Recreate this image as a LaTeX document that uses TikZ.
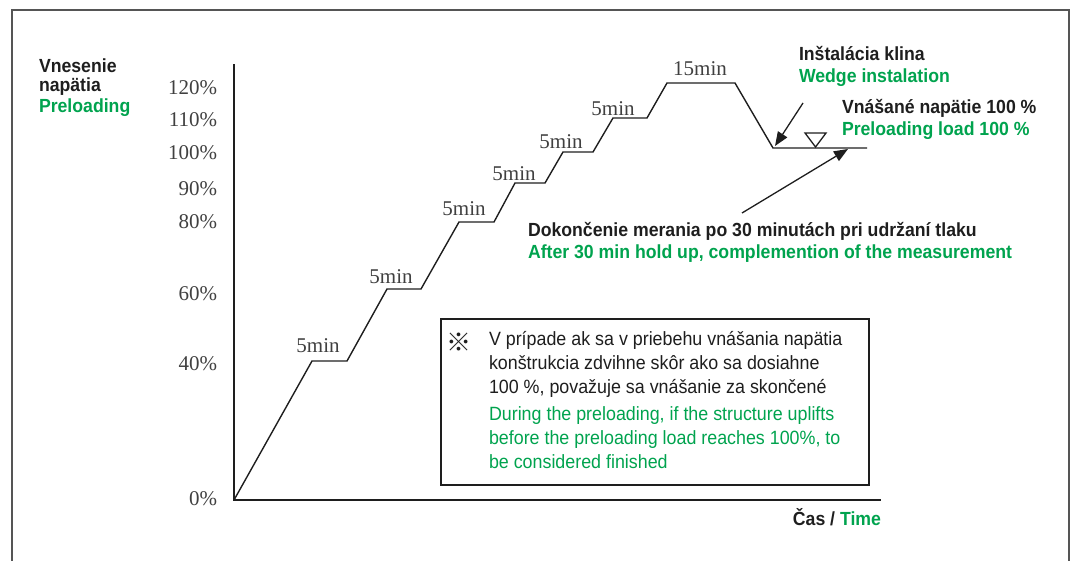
\documentclass[tikz,border=0pt]{standalone}
\usepackage{fontspec}
\setmainfont{Liberation Serif}
\newfontfamily\labfont[FakeStretch=0.93]{Liberation Sans}
\newfontfamily\markfont{Noto Sans CJK SC}
\usetikzlibrary{arrows.meta}
\definecolor{engreen}{RGB}{0,163,78}
\definecolor{ink}{RGB}{30,30,30}
\definecolor{framegray}{RGB}{85,85,85}
\begin{document}
\begin{tikzpicture}[x=1pt,y=-1pt]\tikzstyle{every node}=[inner sep=0pt,outer sep=0pt]
\tikzstyle{pct}=[anchor=base east,font=\fontsize{21}{24}\selectfont,text=ink!85]
\tikzstyle{dur}=[anchor=base,font=\fontsize{21}{24}\selectfont,text=ink!85]
\tikzstyle{sk}=[anchor=base west,font=\labfont\bfseries\fontsize{19}{22}\selectfont,text=ink]
\tikzstyle{en}=[sk,text=engreen]
\tikzstyle{notesk}=[anchor=base west,font=\labfont\fontsize{19.2}{22}\selectfont,text=ink]
\tikzstyle{noteen}=[notesk,text=engreen]
\tikzstyle{pointer}=[-{Triangle[length=14pt,width=11pt]},line width=1.3pt,ink]
\useasboundingbox (0,0) rectangle (1074,560);
% frame (open at the bottom)
\draw[framegray,line width=1.5pt] (12,562) -- (12,10) -- (1069,10) -- (1069,562);
% axes
\draw[ink,line width=1.4pt] (234,64) -- (234,500) -- (881,500);
% y labels
\node[pct] at (217,94) (p120) {120\%};
\node[pct] at (217,126) (p110) {110\%};
\node[pct] at (217,159) (p100) {100\%};
\node[pct] at (217,195) (p90) {90\%};
\node[pct] at (217,228) (p80) {80\%};
\node[pct] at (217,300) (p60) {60\%};
\node[pct] at (217,370) (p40) {40\%};
\node[pct] at (217,505) (p0) {0\%};
% loading steps
\draw[ink,line width=1.4pt,line join=miter] (234,500) -- (312,361) -- (347,361)
  -- (387,289) -- (421,289) -- (459,222) -- (494,222) -- (515,183) -- (545,183)
  -- (563,152) -- (593,152) -- (613,118) -- (647,118) -- (667,83) -- (735,83)
  -- (773,148) -- (867,148);
\node[dur] at (318,352) (d40) {5min};
\node[dur] at (391,283) (d60) {5min};
\node[dur] at (464,215) (d80) {5min};
\node[dur] at (514,180) (d90) {5min};
\node[dur] at (561,148) (d100) {5min};
\node[dur] at (613,115) (d110) {5min};
\node[dur] at (700,75) (d120) {15min};
% level mark
\draw[ink,line width=1.3pt,fill=white] (805,133) -- (826,133) -- (815.5,147) -- cycle;
% titles
\node[sk] at (39,72) (ytitle) {Vnesenie};
\node[sk] at (39,91) (ytitle2) {napätia};
\node[en] at (39,112) (ytitleen) {Preloading};
\node[sk] at (799,60) (wedge) {Inštalácia klina};
\node[en] at (799,82) (wedgeen) {Wedge instalation};
\node[sk] at (842,113) (load) {Vnášané napätie 100 \%};
\node[en] at (842,135) (loaden) {Preloading load 100 \%};
\node[sk] at (528,236) (hold) {Dokončenie merania po 30 minutách pri udržaní tlaku};
\node[en] at (528,258) (holden) {After 30 min hold up, complemention of the measurement};
\node[sk,anchor=base east] at (881,525) (time) {Čas / \textcolor{engreen}{Time}};
% pointers
\coordinate (wedgetail) at (803,103);
\coordinate (wedgetip) at (775,146);
\coordinate (holdtail) at (742,213);
\coordinate (holdtip) at (848,149);
\draw[pointer] (wedgetail) -- (wedgetip);
\draw[pointer] (holdtail) -- (holdtip);
% note
\draw[ink,line width=1.5pt] (441,319) rectangle (869,485);
\node[font=\markfont\fontsize{25}{28}\selectfont,text=ink] at (459,342) (mark) {※};
\node[notesk] at (489,345) (n1) {V prípade ak sa v priebehu vnášania napätia};
\node[notesk] at (489,369) (n2) {konštrukcia zdvihne skôr ako sa dosiahne};
\node[notesk] at (489,393) (n3) {100 \%, považuje sa vnášanie za skončené};
\node[noteen] at (489,420) (n4) {During the preloading, if the structure uplifts};
\node[noteen] at (489,444) (n5) {before the preloading load reaches 100\%, to};
\node[noteen] at (489,468) (n6) {be considered finished};
\end{tikzpicture}
\end{document}
